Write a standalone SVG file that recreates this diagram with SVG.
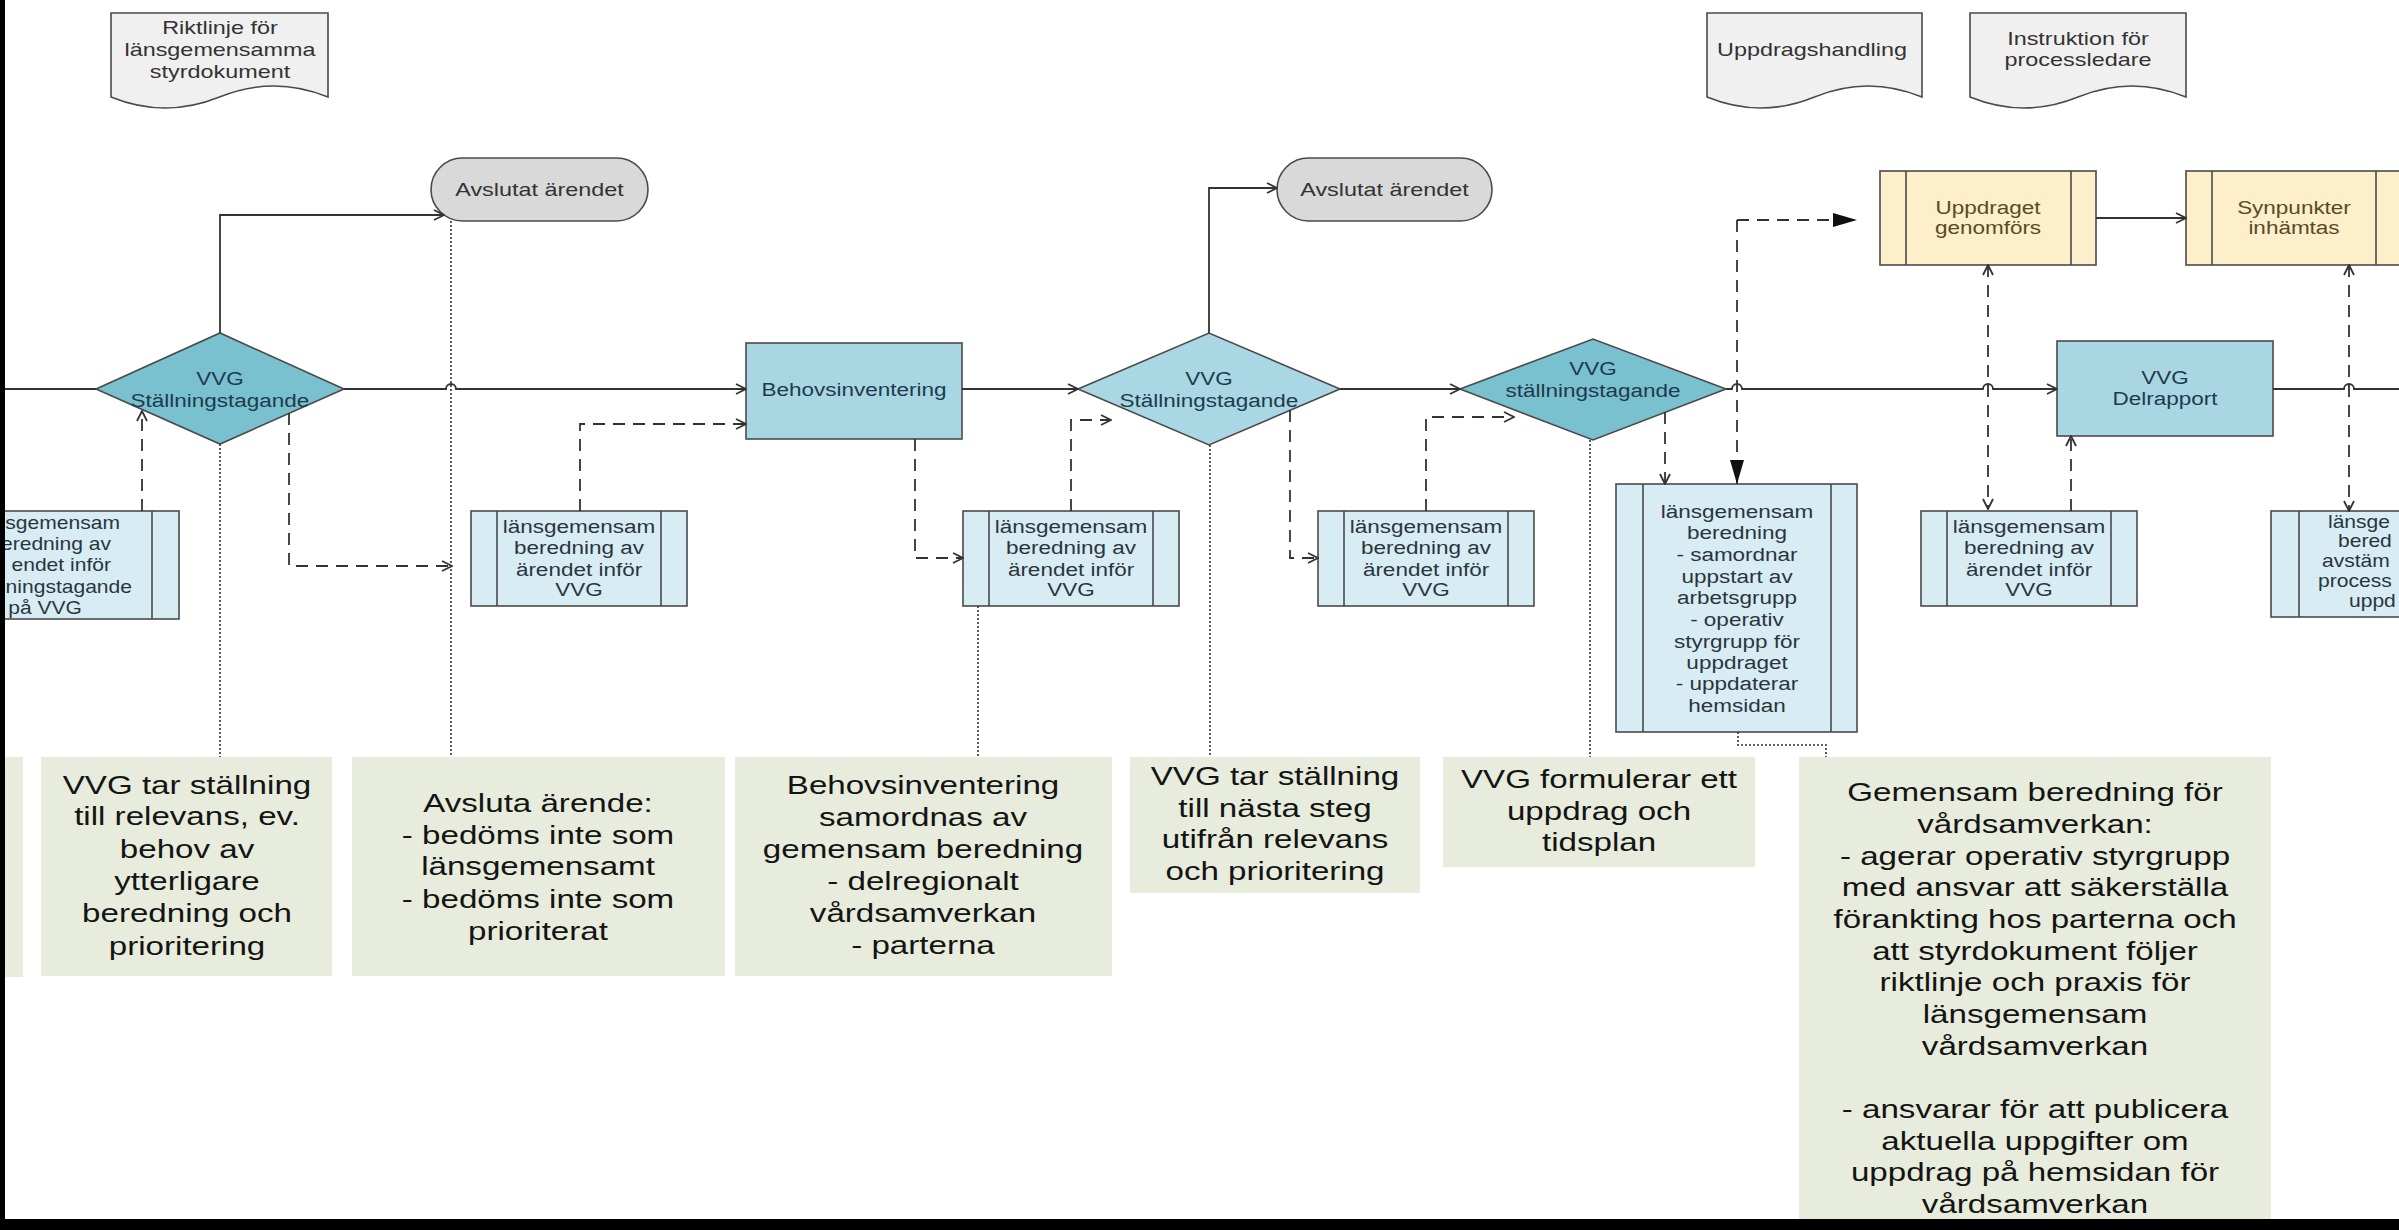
<svg xmlns="http://www.w3.org/2000/svg" width="2399" height="1230" viewBox="0 0 2399 1230">
<defs>
<style>
.sh{stroke:#4a4a4a;stroke-width:1.6}
.doc{fill:#f0f0f0}
.term{fill:#d9d9d9}
.dia1{fill:#79c1ce}
.dia2{fill:#a9d7e3}
.rb{fill:#a9d6e3}
.sub{fill:#d8ecf4}
.yel{fill:#fcefca}
.grn{fill:#e7ecdc}
.t{font-family:"Liberation Sans",Arial,sans-serif;text-anchor:middle}
.nt{font-size:18px;fill:#1d3b4c}
.dt{font-size:18px;fill:#333333}
.bt{font-size:18px;fill:#2a363c}
.yt{font-size:18px;fill:#5a4a28}
.gt{font-size:26.5px;fill:#141414}
.ln{fill:none;stroke:#333;stroke-width:1.8}
.da{stroke-dasharray:12 8}
.do{stroke-dasharray:2 2;stroke-width:1.6}
</style>
<marker id="ao" viewBox="0 0 12 12" refX="11" refY="6" markerWidth="12" markerHeight="12" markerUnits="userSpaceOnUse" orient="auto-start-reverse">
<path d="M1,1 L11,6 L1,11" fill="none" stroke="#333" stroke-width="1.8"/>
</marker>
<marker id="af" viewBox="0 0 24 14" refX="24" refY="7" markerWidth="24" markerHeight="14" markerUnits="userSpaceOnUse" orient="auto">
<path d="M0,0 L24,7 L0,14 Z" fill="#111"/>
</marker>
</defs>
<rect width="2399" height="1230" fill="#ffffff"/>

<!-- green text boxes -->
<g id="tb0"><rect class="grn" x="0" y="757" width="23" height="220"/></g>
<g id="tb1"><rect class="grn" x="41" y="757" width="291" height="219"/>
<text class="t gt" transform="translate(187 0) scale(1.25 1)"><tspan x="0" y="794">VVG tar ställning</tspan><tspan x="0" y="825">till relevans, ev.</tspan><tspan x="0" y="858">behov av</tspan><tspan x="0" y="890">ytterligare</tspan><tspan x="0" y="922">beredning och</tspan><tspan x="0" y="955">prioritering</tspan></text></g>
<g id="tb2"><rect class="grn" x="352" y="757" width="373" height="219"/>
<text class="t gt" transform="translate(538 0) scale(1.25 1)"><tspan x="0" y="812">Avsluta ärende:</tspan><tspan x="0" y="844">- bedöms inte som</tspan><tspan x="0" y="875">länsgemensamt</tspan><tspan x="0" y="908">- bedöms inte som</tspan><tspan x="0" y="940">prioriterat</tspan></text></g>
<g id="tb3"><rect class="grn" x="735" y="757" width="377" height="219"/>
<text class="t gt" transform="translate(923 0) scale(1.25 1)"><tspan x="0" y="794">Behovsinventering</tspan><tspan x="0" y="826">samordnas av</tspan><tspan x="0" y="858">gemensam beredning</tspan><tspan x="0" y="890">- delregionalt</tspan><tspan x="0" y="922">vårdsamverkan</tspan><tspan x="0" y="954">- parterna</tspan></text></g>
<g id="tb4"><rect class="grn" x="1130" y="757" width="290" height="136"/>
<text class="t gt" transform="translate(1275 0) scale(1.25 1)"><tspan x="0" y="785">VVG tar ställning</tspan><tspan x="0" y="817">till nästa steg</tspan><tspan x="0" y="848">utifrån relevans</tspan><tspan x="0" y="880">och prioritering</tspan></text></g>
<g id="tb5"><rect class="grn" x="1443" y="757" width="312" height="110"/>
<text class="t gt" transform="translate(1599 0) scale(1.25 1)"><tspan x="0" y="788">VVG formulerar ett</tspan><tspan x="0" y="820">uppdrag och</tspan><tspan x="0" y="851">tidsplan</tspan></text></g>
<g id="tb6"><rect class="grn" x="1799" y="757" width="472" height="470"/>
<text class="t gt" transform="translate(2035 0) scale(1.25 1)"><tspan x="0" y="801">Gemensam beredning för</tspan><tspan x="0" y="833">vårdsamverkan:</tspan><tspan x="0" y="865">- agerar operativ styrgrupp</tspan><tspan x="0" y="896">med ansvar att säkerställa</tspan><tspan x="0" y="928">förankting hos parterna och</tspan><tspan x="0" y="960">att styrdokument följer</tspan><tspan x="0" y="991">riktlinje och praxis för</tspan><tspan x="0" y="1023">länsgemensam</tspan><tspan x="0" y="1055">vårdsamverkan</tspan><tspan x="0" y="1118">- ansvarar för att publicera</tspan><tspan x="0" y="1150">aktuella uppgifter om</tspan><tspan x="0" y="1181">uppdrag på hemsidan för</tspan><tspan x="0" y="1213">vårdsamverkan</tspan></text></g>

<!-- documents -->
<g id="doc-riktlinje"><path class="sh doc" d="M111,13 H328 V97 Q274,75 219.5,97 Q165,119 111,97 Z"/>
<text class="t dt" transform="translate(220 0) scale(1.3 1)"><tspan x="0" y="34">Riktlinje för</tspan><tspan x="0" y="56">länsgemensamma</tspan><tspan x="0" y="78">styrdokument</tspan></text></g>
<g id="doc-uppdragshandling"><path class="sh doc" d="M1707,13 H1922 V97 Q1868,75 1814.5,97 Q1761,119 1707,97 Z"/>
<text class="t dt" transform="translate(1812 0) scale(1.3 1)"><tspan x="0" y="56">Uppdragshandling</tspan></text></g>
<g id="doc-instruktion"><path class="sh doc" d="M1970,13 H2186 V97 Q2132,75 2078,97 Q2024,119 1970,97 Z"/>
<text class="t dt" transform="translate(2078 0) scale(1.3 1)"><tspan x="0" y="45">Instruktion för</tspan><tspan x="0" y="66">processledare</tspan></text></g>

<!-- terminators -->
<g id="term1"><rect class="sh term" x="431" y="158" width="217" height="63" rx="31.5"/>
<text class="t dt" transform="translate(539.5 0) scale(1.3 1)"><tspan x="0" y="196">Avslutat ärendet</tspan></text></g>
<g id="term2"><rect class="sh term" x="1277" y="158" width="215" height="63" rx="31.5"/>
<text class="t dt" transform="translate(1384.5 0) scale(1.3 1)"><tspan x="0" y="196">Avslutat ärendet</tspan></text></g>

<!-- decisions and process -->
<g id="dia1"><polygon class="sh dia1" points="96,389 220,333 344,389 220,444"/>
<text class="t nt" transform="translate(220 0) scale(1.25 1)"><tspan x="0" y="385">VVG</tspan><tspan x="0" y="407">Ställningstagande</tspan></text></g>
<g id="behov"><rect class="sh rb" x="746" y="343" width="216" height="96"/>
<text class="t nt" transform="translate(854 0) scale(1.25 1)"><tspan x="0" y="396">Behovsinventering</tspan></text></g>
<g id="dia2"><polygon class="sh dia2" points="1078,389 1209,333 1340,389 1209,445"/>
<text class="t nt" transform="translate(1209 0) scale(1.25 1)"><tspan x="0" y="385">VVG</tspan><tspan x="0" y="407">Ställningstagande</tspan></text></g>
<g id="dia3"><polygon class="sh dia1" points="1460,389 1593,339 1726,389 1593,440"/>
<text class="t nt" transform="translate(1593 0) scale(1.25 1)"><tspan x="0" y="375">VVG</tspan><tspan x="0" y="397">ställningstagande</tspan></text></g>
<g id="delrapport"><rect class="sh rb" x="2057" y="341" width="216" height="95"/>
<text class="t nt" transform="translate(2165 0) scale(1.25 1)"><tspan x="0" y="384">VVG</tspan><tspan x="0" y="405">Delrapport</tspan></text></g>

<g id="uppdraget"><rect class="sh yel" x="1880" y="171" width="216" height="94"/>
<line class="sh" x1="1906" y1="171" x2="1906" y2="265"/><line class="sh" x1="2071" y1="171" x2="2071" y2="265"/>
<text class="t yt" transform="translate(1988 0) scale(1.25 1)"><tspan x="0" y="214">Uppdraget</tspan><tspan x="0" y="234">genomförs</tspan></text></g>
<g id="synpunkter"><rect class="sh yel" x="2186" y="171" width="216" height="94"/>
<line class="sh" x1="2212" y1="171" x2="2212" y2="265"/><line class="sh" x1="2376" y1="171" x2="2376" y2="265"/>
<text class="t yt" transform="translate(2294 0) scale(1.25 1)"><tspan x="0" y="214">Synpunkter</tspan><tspan x="0" y="234">inhämtas</tspan></text></g>

<!-- subprocess boxes -->
<g id="boxA"><rect class="sh sub" x="-40" y="511" width="219" height="108"/>
<line class="sh" x1="152" y1="511" x2="152" y2="619"/>
<text class="t bt" style="text-anchor:end" transform="scale(1.17 1)"><tspan x="102.56" y="529">sgemensam</tspan><tspan x="94.87" y="550">eredning av</tspan><tspan x="94.87" y="571">endet inför</tspan><tspan x="112.82" y="593">ningstagande</tspan><tspan x="70.09" y="614">på VVG</tspan></text></g>
<g id="boxB"><rect class="sh sub" x="471" y="511" width="216" height="95"/>
<line class="sh" x1="497" y1="511" x2="497" y2="606"/><line class="sh" x1="661" y1="511" x2="661" y2="606"/>
<text class="t bt" transform="translate(579 0) scale(1.25 1)"><tspan x="0" y="533">länsgemensam</tspan><tspan x="0" y="554">beredning av</tspan><tspan x="0" y="576">ärendet inför</tspan><tspan x="0" y="596">VVG</tspan></text></g>
<g id="boxC"><rect class="sh sub" x="963" y="511" width="216" height="95"/>
<line class="sh" x1="989" y1="511" x2="989" y2="606"/><line class="sh" x1="1153" y1="511" x2="1153" y2="606"/>
<text class="t bt" transform="translate(1071 0) scale(1.25 1)"><tspan x="0" y="533">länsgemensam</tspan><tspan x="0" y="554">beredning av</tspan><tspan x="0" y="576">ärendet inför</tspan><tspan x="0" y="596">VVG</tspan></text></g>
<g id="boxD"><rect class="sh sub" x="1318" y="511" width="216" height="95"/>
<line class="sh" x1="1344" y1="511" x2="1344" y2="606"/><line class="sh" x1="1508" y1="511" x2="1508" y2="606"/>
<text class="t bt" transform="translate(1426 0) scale(1.25 1)"><tspan x="0" y="533">länsgemensam</tspan><tspan x="0" y="554">beredning av</tspan><tspan x="0" y="576">ärendet inför</tspan><tspan x="0" y="596">VVG</tspan></text></g>
<g id="boxE"><rect class="sh sub" x="1616" y="484" width="241" height="248"/>
<line class="sh" x1="1643" y1="484" x2="1643" y2="732"/><line class="sh" x1="1831" y1="484" x2="1831" y2="732"/>
<text class="t bt" transform="translate(1737 0) scale(1.25 1)"><tspan x="0" y="518">länsgemensam</tspan><tspan x="0" y="539.5">beredning</tspan><tspan x="0" y="561">- samordnar</tspan><tspan x="0" y="583">uppstart av</tspan><tspan x="0" y="604">arbetsgrupp</tspan><tspan x="0" y="626">- operativ</tspan><tspan x="0" y="648">styrgrupp för</tspan><tspan x="0" y="669">uppdraget</tspan><tspan x="0" y="690">- uppdaterar</tspan><tspan x="0" y="712">hemsidan</tspan></text></g>
<g id="boxF"><rect class="sh sub" x="1921" y="511" width="216" height="95"/>
<line class="sh" x1="1947" y1="511" x2="1947" y2="606"/><line class="sh" x1="2111" y1="511" x2="2111" y2="606"/>
<text class="t bt" transform="translate(2029 0) scale(1.25 1)"><tspan x="0" y="533">länsgemensam</tspan><tspan x="0" y="554">beredning av</tspan><tspan x="0" y="576">ärendet inför</tspan><tspan x="0" y="596">VVG</tspan></text></g>
<g id="boxG"><rect class="sh sub" x="2271" y="511" width="240" height="106"/>
<line class="sh" x1="2299" y1="511" x2="2299" y2="617"/>
<text class="t bt" style="text-anchor:start" transform="scale(1.17 1)"><tspan x="1989.74" y="528">länsge</tspan><tspan x="1998.29" y="547">bered</tspan><tspan x="1984.62" y="567">avstäm</tspan><tspan x="1981.2" y="587">process</tspan><tspan x="2007.69" y="607">uppd</tspan></text></g>

<!-- connectors -->
<g id="connectors">
<path class="ln" d="M0,389 H96"/>
<path class="ln" d="M344,389 H446 A5,5 0 0 1 456,389 H746" marker-end="url(#ao)"/>
<path class="ln" d="M962,389 H1078" marker-end="url(#ao)"/>
<path class="ln" d="M1340,389 H1460" marker-end="url(#ao)"/>
<path class="ln" d="M1726,389 H1732 A5,5 0 0 1 1742,389 H1983 A5,5 0 0 1 1993,389 H2057" marker-end="url(#ao)"/>
<path class="ln" d="M2273,389 H2344 A5,5 0 0 1 2354,389 H2399"/>
<path class="ln" d="M220,333 V215 H444" marker-end="url(#ao)"/>
<path class="ln" d="M1209,333 V188 H1277" marker-end="url(#ao)"/>
<path class="ln" d="M2096,218 H2186" marker-end="url(#ao)"/>

<path class="ln da" d="M142,511 V411" marker-end="url(#ao)"/>
<path class="ln da" d="M289,413 V566 H452" marker-end="url(#ao)"/>
<path class="ln da" d="M580,511 V424 H746" marker-end="url(#ao)"/>
<path class="ln da" d="M915,439 V558 H963" marker-end="url(#ao)"/>
<path class="ln da" d="M1071,511 V420 H1111" marker-end="url(#ao)"/>
<path class="ln da" d="M1290,410 V558 H1318" marker-end="url(#ao)"/>
<path class="ln da" d="M1426,511 V417 H1514" marker-end="url(#ao)"/>
<path class="ln da" d="M1665,412 V484" marker-end="url(#ao)"/>
<path class="ln da" d="M1737,220 H1857" marker-end="url(#af)"/>
<path class="ln da" d="M1737,220 V484" marker-end="url(#af)"/>
<path class="ln da" d="M1988,265 V509" marker-start="url(#ao)" marker-end="url(#ao)"/>
<path class="ln da" d="M2071,511 V436" marker-end="url(#ao)"/>
<path class="ln da" d="M2349,265 V511" marker-start="url(#ao)" marker-end="url(#ao)"/>

<path class="ln do" d="M220,444 V757"/>
<path class="ln do" d="M451,221 V757"/>
<path class="ln do" d="M978,606 V757"/>
<path class="ln do" d="M1210,445 V757"/>
<path class="ln do" d="M1590,440 V757"/>
<path class="ln do" d="M1738,732 V745 H1826 V757"/>
</g>

<!-- frame -->
<rect x="0" y="0" width="5" height="1230" fill="#000"/>
<rect x="0" y="1219" width="2399" height="11" fill="#000"/>
</svg>
